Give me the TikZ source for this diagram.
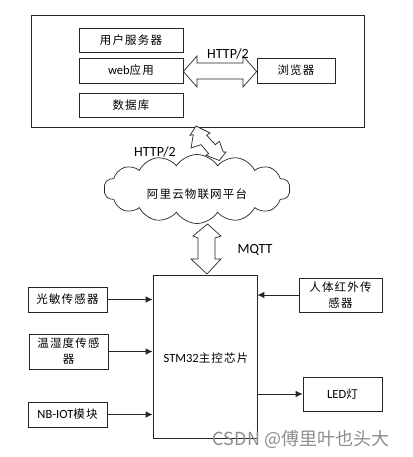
\documentclass[tikz,border=0pt]{standalone}
\usepackage{fontspec}
\setmainfont{Carlito}
\newfontfamily\cjk[LetterSpace=10]{Noto Sans CJK SC}
\newfontfamily\wmfont{Noto Sans CJK SC}
\newcommand\zh[1]{{\cjk\fontsize{11.5}{16}\selectfont #1}}
\usetikzlibrary{shapes.symbols,arrows.meta}
\tikzset{
  box/.style={draw=black!85, line width=0.7pt, fill=white, inner sep=1pt, align=center,
    font=\fontsize{12.5}{16}\selectfont},
  arr/.style={draw=black!85, line width=0.8pt, -{Latex[length=7pt,width=6.5pt]}},
  blockarrow/.style={draw=black!85, line width=0.7pt, fill=white, line join=miter},
  lbl/.style={font=\fontsize{14}{16}\selectfont, inner sep=0pt},
}
\begin{document}
\begin{tikzpicture}[x=1pt,y=-1pt]
\useasboundingbox (0,0) rectangle (412,457);
% top container
\node[box, minimum width=333pt, minimum height=112pt] (outer) at (197.5,71) {};
\node[box, minimum width=104pt, minimum height=24pt] (user) at (131,40) {\zh{用户服务器}};
\node[box, minimum width=104pt, minimum height=25pt] (web) at (131,70.5) {web\zh{应用}};
\node[box, minimum width=104pt, minimum height=24pt] (db) at (131,105) {\zh{数据库}};
\node[box, minimum width=78pt, minimum height=25pt] (browser) at (296,70.5) {\zh{浏览器}};
% horizontal double block arrow HTTP/2
\draw[blockarrow] (web.east |- 0,71.5) -- (197,56) -- (197,63) -- (243,63) -- (243,56)
  -- (browser.west |- 0,71.5) -- (243,87) -- (243,79) -- (197,79) -- (197,87) -- cycle;
\node[lbl] (http1) at (228,54) {HTTP/2};
% zigzag double arrow
\draw[blockarrow] (196,126) -- (210,133) -- (206.7,135.3) -- (215.3,144.7) -- (219.3,141.3)
  -- (223.3,152) -- (226,152) -- (219.3,160.5) -- (206,155.3) -- (208.7,153.7)
  -- (201,144.7) -- (191,148) -- (193.3,134.7) -- (190,135.3) -- cycle;
\node[lbl] (http2) at (155,152) {HTTP/2};
% cloud
\node[cloud, cloud puffs=14, cloud puff arc=115, cloud ignores aspect, draw=black!85,
  line width=0.7pt, fill=white, minimum width=186pt, minimum height=69pt] (cloud) at (197,189) {};
\node[inner sep=0pt] (cloudtxt) at (197,194) {\zh{阿里云物联网平台}};
% STM32
\node[box, minimum width=104pt, minimum height=163pt] (stm) at (205,356.5) {};
\node[font=\fontsize{12.5}{14}\selectfont, inner sep=0pt] (stmtxt) at (206,358) {STM32\zh{主控芯片}};
% MQTT arrow
\draw[blockarrow] (207.5,224) -- (221,236) -- (215,238) -- (215,259) -- (221,259)
  -- (207,274) -- (191,259) -- (198,259) -- (198,238) -- (193,236) -- cycle;
\node[lbl] (mqtt) at (255,250) {MQTT};
% sensors
\node[box, minimum width=79pt, minimum height=25pt] (light) at (67.5,299.5) {\zh{光敏传感器}};
\node[box, minimum width=79pt, minimum height=35pt] (temp) at (68.5,351.5) {\zh{温湿度传感}\\\zh{器}};
\node[box, minimum width=79pt, minimum height=25pt] (nb) at (67.5,414.5) {NB-IOT\zh{模块}};
\node[box, minimum width=83pt, minimum height=34pt] (human) at (340.5,295) {\zh{人体红外传}\\\zh{感器}};
\node[box, minimum width=79pt, minimum height=34pt] (led) at (342.5,394) {LED\zh{灯}};
\draw[arr] (light.east) -- (light.east -| stm.west);
\draw[arr] (temp.east) -- (temp.east -| stm.west);
\draw[arr] (nb.east) -- (nb.east -| stm.west);
\draw[arr] (human.west) -- (human.west -| stm.east);
\draw[arr] (stm.east |- led.west) -- (led.west);
% watermark
\node[text=black!45, font=\wmfont\fontsize{18}{20}\selectfont, inner sep=0pt] (wm) at (301,440) {CSDN @傅里叶也头大};
\end{tikzpicture}
\end{document}
